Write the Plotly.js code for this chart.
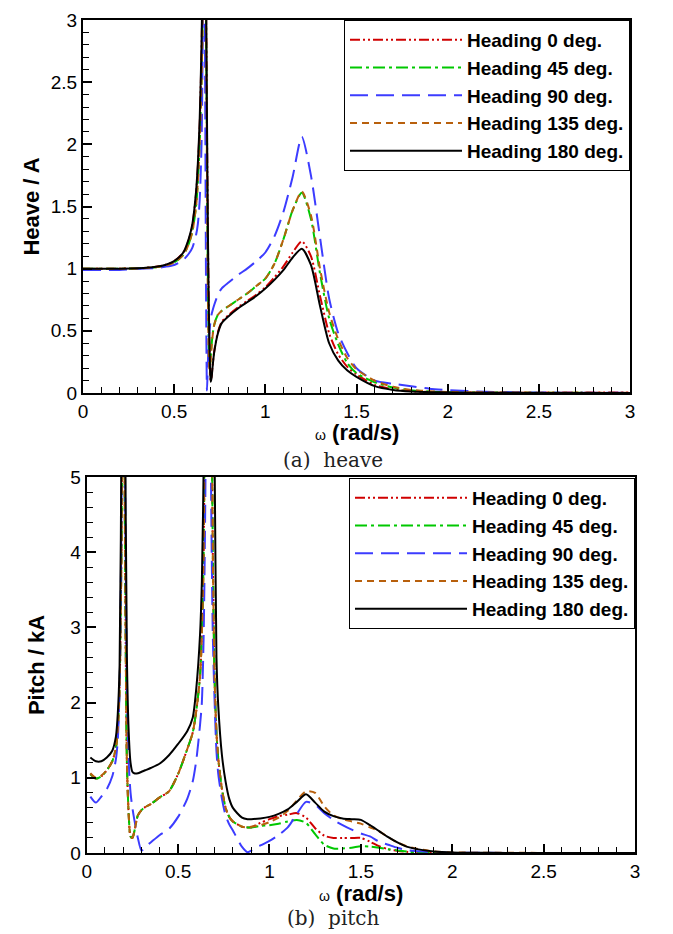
<!DOCTYPE html>
<html><head><meta charset="utf-8">
<script src="https://cdn.plot.ly/plotly-3.0.1.min.js"></script>
<style>html,body{margin:0;padding:0;background:#fff}#chart{width:673px;height:934px}</style>
</head><body><div id="chart"></div>
<script>
// ---------- data ----------
const seriesNames = ['Heading 0 deg.', 'Heading 45 deg.', 'Heading 90 deg.', 'Heading 135 deg.', 'Heading 180 deg.'];

const heaveX = [0, 0.1, 0.2, 0.3, 0.4, 0.45, 0.5, 0.55, 0.58, 0.6, 0.62, 0.63, 0.64, 0.65, 0.655, 0.66, 0.665, 0.67, 0.675, 0.68, 0.685, 0.69, 0.695, 0.70, 0.705, 0.71, 0.72, 0.74, 0.76, 0.8, 0.85, 0.9, 0.95, 1.0, 1.05, 1.1, 1.15, 1.2, 1.25, 1.3, 1.35, 1.4, 1.45, 1.5, 1.6, 1.7, 1.8, 1.9, 2.0, 2.2, 2.5, 2.8, 3.0];

const heave0 = [1.0, 1.0, 1.0, 1.003, 1.015, 1.03, 1.06, 1.13, 1.23, 1.35, 1.6, 1.82, 2.15, 2.75, 3.2, 3.9, 4.8, 4.4, 3.1, 2.1, 1.25, 0.65, 0.28, 0.1, 0.13, 0.21, 0.34, 0.49, 0.57, 0.63, 0.69, 0.74, 0.79, 0.85, 0.93, 1.02, 1.13, 1.22, 1.10, 0.78, 0.48, 0.31, 0.21, 0.15, 0.065, 0.03, 0.014, 0.008, 0.005, 0.003, 0.003, 0.004, 0.004];
const heave45 = [1.0, 1.0, 1.0, 1.002, 1.012, 1.025, 1.05, 1.11, 1.2, 1.3, 1.5, 1.7, 2.0, 2.5, 2.9, 3.6, 4.5, 4.0, 3.0, 1.8, 0.9, 0.35, 0.2, 0.28, 0.38, 0.46, 0.55, 0.63, 0.66, 0.7, 0.75, 0.8, 0.86, 0.92, 1.04, 1.24, 1.47, 1.61, 1.40, 0.96, 0.6, 0.39, 0.24, 0.16, 0.085, 0.045, 0.022, 0.012, 0.007, 0.004, 0.002, 0.001, 0.001];
const heave90 = [0.99, 0.99, 0.99, 1.0, 1.005, 1.015, 1.03, 1.07, 1.12, 1.17, 1.27, 1.36, 1.55, 2.0, 2.6, 3.5, 4.0, 2.5, 0.8, 0.02, 0.25, 0.42, 0.52, 0.58, 0.63, 0.66, 0.71, 0.79, 0.84, 0.89, 0.95, 1.0, 1.06, 1.13, 1.26, 1.46, 1.74, 2.06, 1.75, 1.25, 0.76, 0.48, 0.32, 0.2, 0.1, 0.075, 0.055, 0.035, 0.024, 0.01, 0.004, 0.002, 0.002];
const heave135 = [1.0, 1.0, 1.0, 1.002, 1.012, 1.025, 1.05, 1.11, 1.2, 1.3, 1.5, 1.7, 2.0, 2.5, 2.9, 3.6, 4.5, 4.0, 3.0, 1.8, 0.8, 0.3, 0.15, 0.25, 0.37, 0.45, 0.55, 0.63, 0.66, 0.7, 0.75, 0.8, 0.86, 0.92, 1.04, 1.24, 1.47, 1.62, 1.43, 1.0, 0.65, 0.43, 0.28, 0.19, 0.1, 0.05, 0.025, 0.014, 0.008, 0.005, 0.003, 0.003, 0.003];
const heave180 = [1.0, 1.0, 1.0, 1.003, 1.015, 1.03, 1.06, 1.13, 1.24, 1.36, 1.62, 1.85, 2.2, 2.8, 3.3, 4.0, 5.0, 4.5, 3.2, 2.2, 1.3, 0.7, 0.3, 0.09, 0.12, 0.2, 0.33, 0.48, 0.56, 0.62, 0.68, 0.73, 0.78, 0.84, 0.91, 0.99, 1.09, 1.16, 1.03, 0.70, 0.40, 0.26, 0.18, 0.13, 0.055, 0.025, 0.012, 0.007, 0.004, 0.002, 0.001, 0.001, 0.001];

const pitchX = [0.02, 0.05, 0.08, 0.11, 0.14, 0.16, 0.17, 0.18, 0.19, 0.2, 0.21, 0.22, 0.23, 0.24, 0.25, 0.26, 0.28, 0.3, 0.32, 0.35, 0.4, 0.45, 0.5, 0.55, 0.58, 0.6, 0.62, 0.63, 0.64, 0.65, 0.66, 0.67, 0.68, 0.69, 0.70, 0.71, 0.72, 0.74, 0.76, 0.78, 0.8, 0.85, 0.88, 0.9, 0.95, 1.0, 1.05, 1.1, 1.15, 1.2, 1.25, 1.3, 1.35, 1.4, 1.45, 1.5, 1.55, 1.6, 1.65, 1.7, 1.75, 1.8, 1.9, 2.0, 2.2, 2.4, 2.6, 2.8, 3.0];

const pitch0 = [1.05, 0.99, 1.02, 1.1, 1.22, 1.4, 1.65, 2.2, 4.0, 8, 4.0, 1.2, 0.5, 0.22, 0.2, 0.28, 0.5, 0.57, 0.61, 0.65, 0.74, 0.82, 1.05, 1.38, 1.6, 1.9, 2.35, 2.9, 4.0, 8, 15, 15, 8, 4.0, 2.3, 1.6, 1.25, 0.85, 0.6, 0.48, 0.42, 0.35, 0.34, 0.34, 0.40, 0.45, 0.49, 0.51, 0.53, 0.47, 0.33, 0.23, 0.2, 0.2, 0.2, 0.2, 0.15, 0.09, 0.05, 0.03, 0.015, 0.008, 0.003, 0.001, 0, 0, 0, 0, 0];
const pitch45 = [1.05, 0.99, 1.02, 1.1, 1.22, 1.4, 1.65, 2.2, 4.0, 8, 4.0, 1.2, 0.5, 0.22, 0.2, 0.28, 0.5, 0.57, 0.61, 0.65, 0.74, 0.82, 1.05, 1.38, 1.6, 1.9, 2.35, 2.9, 4.0, 8, 15, 15, 8, 4.0, 2.3, 1.6, 1.25, 0.85, 0.6, 0.48, 0.42, 0.35, 0.34, 0.34, 0.36, 0.37, 0.39, 0.42, 0.44, 0.4, 0.25, 0.11, 0.06, 0.06, 0.07, 0.09, 0.085, 0.07, 0.05, 0.035, 0.02, 0.01, 0.005, 0.002, 0, 0, 0, 0, 0];
const pitch90 = [0.75, 0.67, 0.75, 0.85, 1.02, 1.25, 1.5, 2.2, 4.5, 9, 5, 2.2, 1.2, 0.8, 0.6, 0.45, 0.2, 0.03, 0.08, 0.14, 0.24, 0.32, 0.48, 0.72, 0.95, 1.24, 1.7, 2.0, 2.9, 5, 10, 10, 5, 2.9, 2.0, 1.35, 1.05, 0.72, 0.5, 0.38, 0.3, 0.08, 0.01, 0.03, 0.1, 0.16, 0.24, 0.34, 0.52, 0.68, 0.64, 0.53, 0.44, 0.37, 0.31, 0.26, 0.22, 0.15, 0.11, 0.07, 0.04, 0.025, 0.01, 0.004, 0.002, 0.001, 0, 0, 0];
const pitch135 = [1.06, 1.0, 1.03, 1.1, 1.22, 1.4, 1.65, 2.2, 4.0, 8, 4.0, 1.2, 0.5, 0.22, 0.2, 0.28, 0.5, 0.57, 0.61, 0.65, 0.74, 0.82, 1.05, 1.38, 1.6, 1.9, 2.35, 2.9, 4.0, 8, 15, 15, 8, 4.0, 2.3, 1.6, 1.25, 0.85, 0.6, 0.48, 0.42, 0.35, 0.34, 0.35, 0.37, 0.41, 0.47, 0.56, 0.7, 0.82, 0.8, 0.62, 0.5, 0.45, 0.42, 0.39, 0.34, 0.29, 0.21, 0.14, 0.09, 0.06, 0.02, 0.008, 0.003, 0.002, 0, 0, 0];
const pitch180 = [1.27, 1.22, 1.22, 1.27, 1.36, 1.55, 1.85, 2.5, 5.5, 12, 6.0, 2.6, 1.6, 1.2, 1.08, 1.06, 1.06, 1.08, 1.1, 1.13, 1.19, 1.3, 1.45, 1.62, 1.8, 2.2, 2.9, 3.6, 5.2, 10, 20, 20, 12, 7, 5.2, 2.6, 1.95, 1.3, 0.95, 0.72, 0.6, 0.47, 0.45, 0.45, 0.46, 0.48, 0.52, 0.58, 0.68, 0.78, 0.67, 0.55, 0.49, 0.46, 0.45, 0.44, 0.37, 0.29, 0.21, 0.14, 0.085, 0.055, 0.02, 0.006, 0.002, 0.001, 0, 0, 0];

const xTicks = [0, 0.5, 1, 1.5, 2, 2.5, 3];

// ---------- styles ----------
const colors = ['#d00000', '#00c800', '#3c3cff', '#b8600c', '#000000'];
const dashes = ['10px,3px,2px,3px,2px,3px', '12px,4px,3px,4px', '18px,8px', '7px,5px', 'solid'];
const heaveY = [heave0, heave45, heave90, heave135, heave180];
const pitchY = [pitch0, pitch45, pitch90, pitch135, pitch180];

const traces = [];
seriesNames.forEach((n, i) => {
  traces.push({x: heaveX, y: heaveY[i], xaxis: 'x', yaxis: 'y', name: n, mode: 'lines',
    legend: 'legend', legendgroup: 'h' + i,
    line: {color: colors[i], width: 2, dash: dashes[i], shape: 'spline', smoothing: 0.7}});
});
seriesNames.forEach((n, i) => {
  traces.push({x: pitchX, y: pitchY[i], xaxis: 'x2', yaxis: 'y2', name: n, mode: 'lines',
    legend: 'legend2', legendgroup: 'p' + i,
    line: {color: colors[i], width: 2, dash: dashes[i], shape: 'spline', smoothing: 0.7}});
});

const FONT = 'Liberation Sans, Arial, sans-serif';
function axisBase(extra) {
  return Object.assign({
    showgrid: false, zeroline: false, showline: true, linecolor: 'black', linewidth: 2,
    mirror: true, ticks: 'inside', ticklen: 9, tickwidth: 2, tickcolor: 'black',
    tickfont: {size: 19, family: FONT, color: 'black'}, fixedrange: true,
    minor: {ticks: 'inside', ticklen: 6, tickwidth: 1, tickcolor: 'black', dtick: 0.1}
  }, extra);
}
const xTitleText = "<span style='font-size:14px;font-weight:normal'>ω</span> (rad/s)";
const titleFont = {size: 22, weight: 'bold', family: FONT, color: 'black'};

const legendBase = {xanchor: 'right', yanchor: 'top', bordercolor: 'black', borderwidth: 1,
  bgcolor: 'white', font: {size: 19, weight: 'bold', family: FONT, color: 'black'},
  itemwidth: 112, tracegroupgap: 0, itemclick: false, itemdoubleclick: false};

const layout = {
  width: 673, height: 934, margin: {l: 0, r: 0, t: 0, b: 0},
  paper_bgcolor: 'white', plot_bgcolor: 'white', showlegend: true,
  font: {family: FONT, color: 'black'},
  xaxis: axisBase({domain: [83/673, 630/673], anchor: 'y', range: [0, 3], tickvals: xTicks}),
  yaxis: axisBase({domain: [1 - 393/934, 1 - 20/934], anchor: 'x', range: [0, 3], dtick: 0.5, tick0: 0,
    title: {text: 'Heave / A', font: titleFont, standoff: 5}}),
  xaxis2: axisBase({domain: [86.7/673, 635/673], anchor: 'y2', range: [0, 3], tickvals: xTicks}),
  yaxis2: axisBase({domain: [1 - 853/934, 1 - 477/934], anchor: 'x2', range: [0, 5], dtick: 1, tick0: 0,
    minor: {ticks: 'inside', ticklen: 6, tickwidth: 1, tickcolor: 'black', dtick: 0.2},
    title: {text: 'Pitch / kA', font: titleFont, standoff: 20}}),
  legend: Object.assign({x: 630/673, y: 1 - 20/934}, legendBase),
  legend2: Object.assign({x: 635/673, y: 1 - 478/934}, legendBase),
  annotations: [
    {text: xTitleText, xref: 'paper', yref: 'paper', x: 356.5/673, y: 1 - 433/934,
     xanchor: 'center', yanchor: 'middle', showarrow: false, font: titleFont},
    {text: xTitleText, xref: 'paper', yref: 'paper', x: 361/673, y: 1 - 893/934,
     xanchor: 'center', yanchor: 'middle', showarrow: false, font: titleFont},
    {text: '(a)\u00a0\u00a0heave', xref: 'paper', yref: 'paper', x: 333/673, y: 1 - 460/934,
     xanchor: 'center', yanchor: 'middle', showarrow: false,
     font: {family: 'DejaVu Serif, Liberation Serif, serif', size: 20, color: '#222'}},
    {text: '(b)\u00a0\u00a0pitch', xref: 'paper', yref: 'paper', x: 333/673, y: 1 - 918/934,
     xanchor: 'center', yanchor: 'middle', showarrow: false,
     font: {family: 'DejaVu Serif, Liberation Serif, serif', size: 20, color: '#222'}}
  ]
};

Plotly.newPlot('chart', traces, layout, {staticPlot: true, displayModeBar: false});
</script>
</body></html>
